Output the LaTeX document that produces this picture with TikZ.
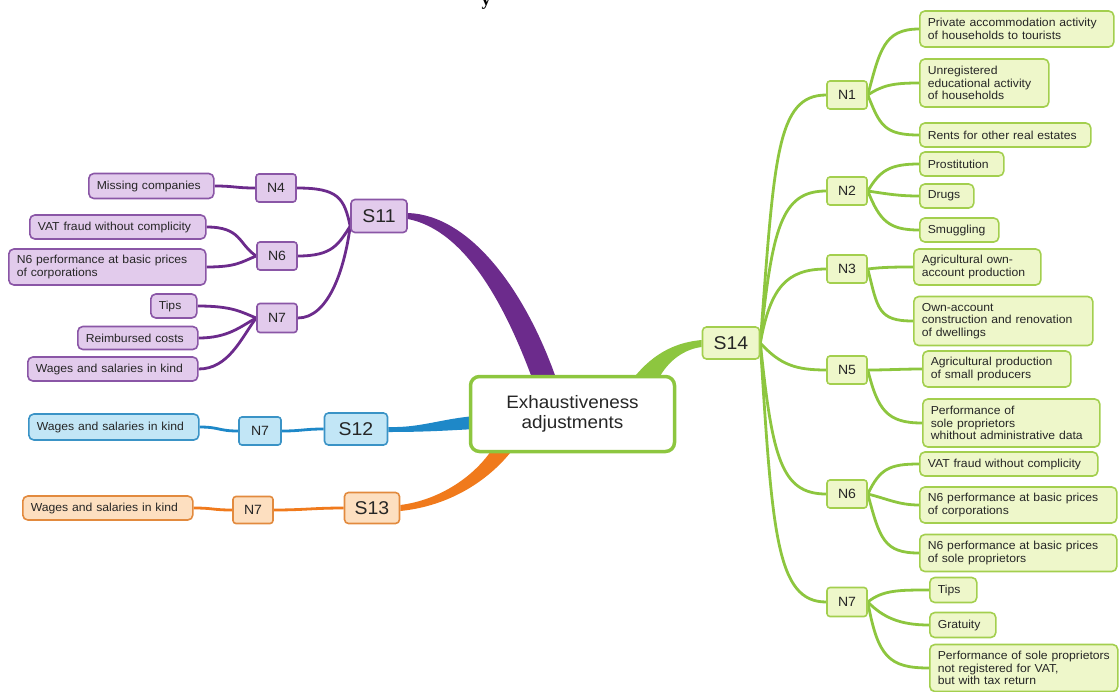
\documentclass[tikz,border=0pt]{standalone}
\usepackage{fontspec}
\setmainfont{Liberation Sans}[FakeStretch=1.05]
\newfontfamily\titlefont{Liberation Serif}
\usetikzlibrary{calc}
\definecolor{txt}{HTML}{262626}
\definecolor{gln}{HTML}{8DC63F}
\definecolor{gbd}{HTML}{A3CF4E}
\definecolor{gfl}{HTML}{EEF7CA}
\definecolor{pln}{HTML}{6C2B8C}
\definecolor{pbd}{HTML}{8A56A6}
\definecolor{pfl}{HTML}{E2CBEC}
\definecolor{bln}{HTML}{1E88C8}
\definecolor{bbd}{HTML}{3A93C6}
\definecolor{bfl}{HTML}{C2E6F6}
\definecolor{oln}{HTML}{F07A1C}
\definecolor{obd}{HTML}{E28A3E}
\definecolor{ofl}{HTML}{FDDFC0}
\pgfdeclarelayer{bg}
\pgfsetlayers{bg,main}
\newcommand\leaff{\fontsize{11.6}{12.6}\selectfont}
\newcommand\nodef{\fontsize{13.4}{15}\selectfont}
\newcommand\bigf{\fontsize{18.5}{20}\selectfont}
\newcommand\centf{\fontsize{18}{20}\selectfont}
\tikzset{
  box/.style={rounded corners=5pt, line width=1.6pt, text=txt, inner xsep=8pt, inner ysep=2pt},
  leaf/.style={box, font=\leaff, align=left, anchor=west},
  nbox/.style={box, font=\nodef, minimum width=40pt, minimum height=28pt, inner sep=0pt, rounded corners=3pt},
  sbox/.style={box, font=\bigf, inner sep=0pt, rounded corners=4pt},
  fillg/.style={draw=gbd, fill=gfl},
  fillp/.style={draw=pbd, fill=pfl},
  fillb/.style={draw=bbd, fill=bfl},
  fillo/.style={draw=obd, fill=ofl},
  lineg/.style={draw=gln, line width=2.8pt},
  linep/.style={draw=pln, line width=2.8pt},
  lineb/.style={draw=bln, line width=2.8pt},
  lineo/.style={draw=oln, line width=2.8pt}
}
\begin{document}
\begin{tikzpicture}[x=1pt, y=-1pt]
\useasboundingbox (0,0) rectangle (1119,691);

% title fragment
\node[font=\titlefont\bfseries\fontsize{18}{20}\selectfont, anchor=base, inner sep=0pt] (ttl) at (486,5) {y};

% centre
\node[draw=gln, fill=white, line width=3.5pt, rounded corners=9pt, minimum width=204pt, minimum height=75pt, align=center, font=\centf, text=txt] (ctr) at (572.5,414) {Exhaustiveness\\adjustments};

% ---------- S11 (purple) ----------
\node[sbox, fillp, minimum width=56pt, minimum height=33pt] (s11) at (379,216) {S11};
\node[nbox, fillp] (pn4) at (276,188) {N4};
\node[nbox, fillp] (pn6) at (277,256) {N6};
\node[nbox, fillp, minimum height=29pt] (pn7) at (277,318) {N7};
\node[leaf, fillp, text width=109pt, minimum height=25pt] (pmiss) at (88,186) {\mbox{Missing companies}};
\node[leaf, fillp, text width=160pt, minimum height=24pt] (pvat) at (29,227) {\mbox{VAT fraud without complicity}};
\node[leaf, fillp, text width=181pt, minimum height=36pt] (pn6perf) at (8,267) {\mbox{N6 performance at basic prices}\\\mbox{of corporations}};
\node[leaf, fillp, text width=30pt, minimum height=24pt] (ptips) at (150,306) {\mbox{Tips}};
\node[leaf, fillp, text width=104pt, minimum height=23pt] (preimb) at (77,338) {\mbox{Reimbursed costs}};
\node[leaf, fillp, text width=154pt, minimum height=24pt] (pwages) at (27,369) {\mbox{Wages and salaries in kind}};
\coordinate (s11in) at ($(s11.south west)+(0,-7)$);

% ---------- S12 (blue) ----------
\node[sbox, fillb, minimum width=63pt, minimum height=32pt] (s12) at (356,429) {S12};
\node[nbox, fillb, minimum width=42pt] (bn7) at (260,431) {N7};
\node[leaf, fillb, text width=154pt, minimum height=26pt] (bwages) at (28,427) {\mbox{Wages and salaries in kind}};

% ---------- S13 (orange) ----------
\node[sbox, fillo, minimum width=55pt, minimum height=31pt] (s13) at (372,508) {S13};
\node[nbox, fillo, minimum height=27pt] (on7) at (253,510) {N7};
\node[leaf, fillo, text width=154pt, minimum height=24pt] (owages) at (22,508) {\mbox{Wages and salaries in kind}};

% ---------- S14 (green) ----------
\node[sbox, fillg, minimum width=57pt, minimum height=32pt] (s14) at (731,343) {S14};
\node[nbox, fillg] (gn1) at (847,95) {N1};
\node[nbox, fillg] (gn2) at (847,191) {N2};
\node[nbox, fillg] (gn3) at (847,269) {N3};
\node[nbox, fillg] (gn5) at (847,370) {N5};
\node[nbox, fillg] (gn6) at (847,494) {N6};
\node[nbox, fillg, minimum height=29pt] (gn7) at (847,602) {N7};

\node[leaf, fillg, text width=178pt, minimum height=36pt] (rpriv) at (919,29) {\mbox{Private accommodation activity}\\\mbox{of households to tourists}};
\node[leaf, fillg, text width=113pt, minimum height=48pt] (runreg) at (919,83) {\mbox{Unregistered}\\\mbox{educational activity}\\\mbox{of households}};
\node[leaf, fillg, text width=155pt, minimum height=24pt] (rrents) at (919,135) {\mbox{Rents for other real estates}};
\node[leaf, fillg, text width=68pt, minimum height=24pt] (rprost) at (919,164) {\mbox{Prostitution}};
\node[leaf, fillg, text width=38pt, minimum height=24pt] (rdrugs) at (919,196) {\mbox{Drugs}};
\node[leaf, fillg, text width=63pt, minimum height=24pt] (rsmug) at (919,230) {\mbox{Smuggling}};
\node[leaf, fillg, text width=111pt, minimum height=36pt] (ragown) at (913,267) {\mbox{Agricultural own-}\\\mbox{account production}};
\node[leaf, fillg, text width=163pt, minimum height=49pt] (rownacc) at (913,321) {\mbox{Own-account}\\\mbox{construction and renovation}\\\mbox{of dwellings}};
\node[leaf, fillg, text width=132pt, minimum height=36pt] (ragprod) at (922,369) {\mbox{Agricultural production}\\\mbox{of small producers}};
\node[leaf, fillg, text width=161pt, minimum height=48pt] (rperf) at (922,423) {\mbox{Performance of}\\\mbox{sole proprietors}\\\mbox{whithout administrative data}};
\node[leaf, fillg, text width=162pt, minimum height=24pt] (rvat) at (919,464) {\mbox{VAT fraud without complicity}};
\node[leaf, fillg, text width=181pt, minimum height=36pt] (rcorp) at (919,505) {\mbox{N6 performance at basic prices}\\\mbox{of corporations}};
\node[leaf, fillg, text width=181pt, minimum height=37pt] (rsole) at (919,553) {\mbox{N6 performance at basic prices}\\\mbox{of sole proprietors}};
\node[leaf, fillg, text width=31pt, minimum height=25pt] (rtips) at (929,590) {\mbox{Tips}};
\node[leaf, fillg, text width=50pt, minimum height=25pt] (rgrat) at (929,625) {\mbox{Gratuity}};
\node[leaf, fillg, text width=172pt, minimum height=47pt] (rperf2) at (929,668) {\mbox{Performance of sole proprietors}\\\mbox{not registered for VAT,}\\\mbox{but with tax return}};

\begin{pgfonlayer}{bg}
% tapered main branches
\fill[pln] ($(s11.east)+(0,-3)$) .. controls (470,215) and (525,290) .. (556,378)
  -- (532,378) .. controls (505,305) and (465,230) .. ($(s11.east)+(0,3)$) -- cycle;
\fill[bln] ($(s12.east)+(0,-2)$) .. controls (420,428) and (440,419) .. (475,416)
  -- (475,429) .. controls (440,431) and (420,432) .. ($(s12.east)+(0,3)$) -- cycle;
\fill[oln] ($(s13.east)+(0,3)$) .. controls (450,506) and (490,480) .. (514,448)
  -- (493,448) .. controls (475,476) and (440,500) .. ($(s13.east)+(0,-3)$) -- cycle;
\fill[gln] (632,380) .. controls (655,350) and (680,342) .. ($(s14.west)+(0,-3)$)
  -- ($(s14.west)+(0,4)$) .. controls (685,349) and (668,360) .. (658,380) -- cycle;

% purple connectors
\draw[linep] (pmiss.east) .. controls +(20,0) and +(-20,0) .. (pn4.west);
\draw[linep] (pvat.east) .. controls +(35,0) and +(-18,-12) .. (pn6.west);
\draw[linep] (pn6perf.east) .. controls +(30,0) and +(-15,6) .. (pn6.west);
\draw[linep] (ptips.east) .. controls +(35,0) and +(-15,-6) .. (pn7.west);
\draw[linep] (preimb.east) .. controls +(30,0) and +(-15,8) .. (pn7.west);
\draw[linep] (pwages.east) .. controls +(30,0) and +(-15,20) .. (pn7.west);
\draw[linep] (pn4.east) .. controls +(42,0) and +(-6,-28) .. (s11in);
\draw[linep] (pn6.east) .. controls +(35,0) and +(-12,18) .. (s11in);
\draw[linep] (pn7.east) .. controls +(30,0) and +(-6,45) .. (s11in);

% blue connectors
\draw[lineb] (bwages.east) .. controls +(20,0) and +(-20,0) .. (bn7.west);
\draw[lineb] (bn7.east) .. controls +(20,0) and +(-20,0) .. (s12.west);

% orange connectors
\draw[lineo] (owages.east) .. controls +(20,0) and +(-20,0) .. (on7.west);
\draw[lineo] (on7.east) .. controls +(30,0) and +(-30,0) .. (s13.west);

% green connectors S14 -> N
\draw[lineg] (s14.east) .. controls +(14,-185) and +(-50,0) .. (gn1.west);
\draw[lineg] (s14.east) .. controls +(12,-115) and +(-45,0) .. (gn2.west);
\draw[lineg] (s14.east) .. controls +(10,-55) and +(-40,0) .. (gn3.west);
\draw[lineg] (s14.east) .. controls +(20,22) and +(-30,0) .. (gn5.west);
\draw[lineg] (s14.east) .. controls +(12,115) and +(-45,0) .. (gn6.west);
\draw[lineg] (s14.east) .. controls +(12,190) and +(-50,0) .. (gn7.west);

% green connectors N -> leaves
\draw[lineg] (gn1.east) .. controls +(12,-45) and +(-35,0) .. (rpriv.west);
\draw[lineg] (gn1.east) .. controls +(15,-10) and +(-25,0) .. (runreg.west);
\draw[lineg] (gn1.east) .. controls +(12,30) and +(-35,0) .. (rrents.west);
\draw[lineg] (gn2.east) .. controls +(12,-20) and +(-30,0) .. (rprost.west);
\draw[lineg] (gn2.east) .. controls +(20,3) and +(-20,0) .. (rdrugs.west);
\draw[lineg] (gn2.east) .. controls +(12,30) and +(-30,0) .. (rsmug.west);
\draw[lineg] (gn3.east) .. controls +(15,-2) and +(-15,0) .. (ragown.west);
\draw[lineg] (gn3.east) .. controls +(10,40) and +(-35,0) .. (rownacc.west);
\draw[lineg] (gn5.east) .. controls +(20,0) and +(-20,0) .. (ragprod.west);
\draw[lineg] (gn5.east) .. controls +(10,40) and +(-35,0) .. (rperf.west);
\draw[lineg] (gn6.east) .. controls +(12,-25) and +(-30,0) .. (rvat.west);
\draw[lineg] (gn6.east) .. controls +(20,5) and +(-20,0) .. (rcorp.west);
\draw[lineg] (gn6.east) .. controls +(12,45) and +(-35,0) .. (rsole.west);
\draw[lineg] (gn7.east) .. controls +(15,-12) and +(-30,0) .. (rtips.west);
\draw[lineg] (gn7.east) .. controls +(15,15) and +(-30,0) .. (rgrat.west);
\draw[lineg] (gn7.east) .. controls +(10,55) and +(-40,0) .. (rperf2.west);
\end{pgfonlayer}
\end{tikzpicture}
\end{document}
